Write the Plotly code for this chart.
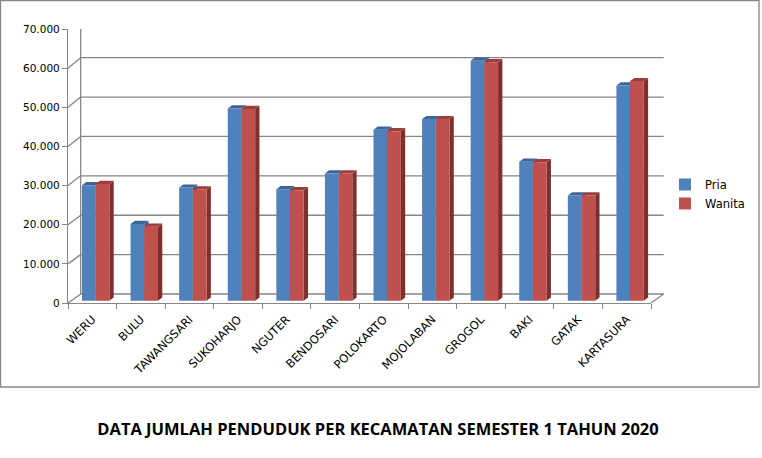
import numpy as np
import plotly.graph_objects as go

# data
kecamatan = ["WERU", "BULU", "TAWANGSARI", "SUKOHARJO", "NGUTER", "BENDOSARI",
             "POLOKARTO", "MOJOLABAN", "GROGOL", "BAKI", "GATAK", "KARTASURA"]
pria = [29500, 19600, 28900, 49100, 28500, 32500, 43700, 46400, 61300, 35500, 26900, 55000]
wanita = [29800, 18900, 28400, 49000, 28200, 32500, 43300, 46400, 60900, 35400, 26900, 56100]
y_ticks = [0, 10000, 20000, 30000, 40000, 50000, 60000, 70000]

# page / plot area in pixels
W, H = 762, 458
L, R, T, B = 68, 651, 29, 303
PW, PH = R - L, B - T
YMAX = 70000
ncat = len(kecamatan)
cat_px = PW / ncat
px2y = YMAX / PH          # data units per vertical pixel

# fake 3d depth (pixels)
wall_dx, wall_dy0, wall_dy1 = 12.7, 9.0, 10.7
bar_w = 13.7 / cat_px
shift = 3.4 / cat_px
lift = 2.3 * px2y
side_dx = 4.3 / cat_px
side_dy = 3.2 * px2y

BLUE, RED = "#4F81BD", "#C0504D"
BLUE_TOP, RED_TOP = "#3D6596", "#9C3E3B"
BLUE_SIDE, RED_SIDE = "#385D8A", "#7E302E"
GRID = "#868686"
FONT = "DejaVu Sans"

x = np.arange(ncat)

fig = go.Figure()
fig.add_trace(go.Bar(x=x, y=pria, base=lift, name="Pria", marker_color=BLUE,
                     width=bar_w, offset=-bar_w + shift, marker_line_width=0))
fig.add_trace(go.Bar(x=x, y=wanita, base=lift, name="Wanita", marker_color=RED,
                     width=bar_w, offset=shift, marker_line_width=0))

shapes = []


def back_y(v):
    return v + (wall_dy0 + (wall_dy1 - wall_dy0) * v / YMAX) * px2y


wx = wall_dx / PW
# back wall grid + little diagonals on the left
for v in y_ticks:
    shapes.append(dict(type="line", xref="paper", yref="y", x0=wx, x1=1 + wx,
                       y0=back_y(v), y1=back_y(v), line=dict(color=GRID, width=1.3),
                       layer="below"))
    shapes.append(dict(type="line", xref="paper", yref="y", x0=0, x1=wx,
                       y0=v, y1=back_y(v), line=dict(color=GRID, width=1.3),
                       layer="below"))
shapes.append(dict(type="line", xref="paper", yref="y", x0=wx, x1=wx,
                   y0=back_y(0), y1=back_y(YMAX), line=dict(color=GRID, width=1.3),
                   layer="below"))
shapes.append(dict(type="line", xref="paper", yref="y", x0=1, x1=1 + wx,
                   y0=0, y1=back_y(0), line=dict(color=GRID, width=1.3), layer="below"))

# side and top faces of the columns
for vals, off, top_c, side_c in [(pria, -bar_w + shift, BLUE_TOP, BLUE_SIDE),
                                 (wanita, shift, RED_TOP, RED_SIDE)]:
    for i, v in enumerate(vals):
        x0 = i + off
        x1 = x0 + bar_w
        y0 = lift
        y1 = lift + v
        side = (f"M{x1},{y0} L{x1},{y1} L{x1 + side_dx},{y1 + side_dy} "
                f"L{x1 + side_dx},{y0 + side_dy} Z")
        top = (f"M{x0},{y1} L{x1},{y1} L{x1 + side_dx},{y1 + side_dy} "
               f"L{x0 + side_dx},{y1 + side_dy} Z")
        shapes.append(dict(type="path", path=side, xref="x", yref="y",
                           fillcolor=side_c, line_width=0, layer="between"))
        shapes.append(dict(type="path", path=top, xref="x", yref="y",
                           fillcolor=top_c, line_width=0, layer="between"))

# chart border
shapes.append(dict(type="rect", xref="paper", yref="paper",
                   x0=(0.5 - L) / PW, x1=(759 - L) / PW,
                   y0=(B - 387) / PH, y1=(B - 0.5) / PH,
                   line=dict(color=GRID, width=1.3), layer="below"))

fig.update_layout(
    width=W, height=H,
    margin=dict(l=L, r=W - R, t=T, b=H - B, pad=0),
    paper_bgcolor="white", plot_bgcolor="rgba(0,0,0,0)",
    separators=",.",
    barmode="overlay",
    shapes=shapes,
    font=dict(family=FONT, size=11, color="black"),
    title=dict(text="<b>DATA JUMLAH PENDUDUK PER KECAMATAN SEMESTER 1 TAHUN 2020</b>",
               x=378 / W, xanchor="center", y=1 - 429 / H, yanchor="middle",
               font=dict(family="Open Sans", size=16.5, color="black")),
    legend=dict(x=(665 - L) / PW, xanchor="left", y=(B - 194) / PH, yanchor="middle",
                itemwidth=30, font=dict(family=FONT, size=11.5), bgcolor="rgba(0,0,0,0)"),
    xaxis=dict(range=[-0.5, ncat - 0.5], tickvals=x, ticktext=kecamatan,
               tickangle=-45, ticks="", showgrid=False, zeroline=False,
               showline=True, linecolor=GRID, linewidth=1.3, ticklabelstandoff=4,
               tickfont=dict(family=FONT, size=11.5),
               minor=dict(tick0=0.5, dtick=1, ticks="outside", ticklen=5,
                          tickcolor=GRID, tickwidth=1.3, showgrid=False)),
    yaxis=dict(range=[0, YMAX], tickvals=y_ticks, tickformat=",.0f",
               showgrid=False, zeroline=False, showline=True, linecolor=GRID,
               linewidth=1.3, ticks="outside", ticklen=5, tickcolor=GRID,
               tickwidth=1.3, tickfont=dict(family=FONT, size=10.5)),
    showlegend=True,
)

# the page body has a default 8px margin; drop it so the figure sits at 0,0
fig.write_html("out.html", config={"displayModeBar": False},
               post_script="document.body.style.margin = '0';")
